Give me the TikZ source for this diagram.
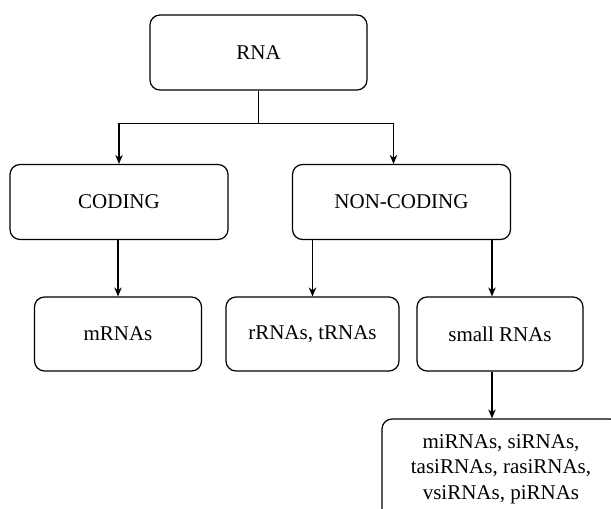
\documentclass[tikz,border=0pt]{standalone}
\usepackage{fontspec}
\setmainfont{Liberation Serif}
\usetikzlibrary{arrows.meta}
\begin{document}
\begin{tikzpicture}[x=1pt,y=-1pt,>={Stealth[length=9pt,width=7.5pt]},line width=1.2pt,
    box/.style={draw,rounded corners=10pt,minimum height=75pt,inner sep=0pt,align=center,
      font=\fontsize{21}{25.5}\selectfont}]
    \clip (0,0) rectangle (611,509);
    \node[box,minimum width=217pt] (rna) at (258.5,52.5) {RNA};
    \node[box,minimum width=218pt] (coding) at (119,202) {CODING};
    \node[box,minimum width=218pt] (noncoding) at (401.5,202) {NON-CODING};
    \node[box,minimum width=167pt,minimum height=74pt] (mrnas) at (118,334) {mRNAs};
    \node[box,minimum width=173pt,minimum height=74pt] (rrnas) at (312.5,334) {rRNAs, tRNAs};
    \node[box,minimum width=166pt,minimum height=74pt] (small) at (500,334) {small RNAs};
    \node[box,minimum width=238pt,minimum height=100pt] (sub) at (501,469)
      {miRNAs, siRNAs,\\ tasiRNAs, rasiRNAs,\\ vsiRNAs, piRNAs};
    \draw[->] (rna.south) -- ++(0,33) -| (coding.north);
    \draw[->] (rna.south) ++(0,33) -| ([xshift=-8pt]noncoding.north);
    \draw[->] (coding.south -| mrnas.north) -- (mrnas.north);
    \draw[->] (noncoding.south -| rrnas.north) -- (rrnas.north);
    \draw[->] ([xshift=-8pt]small.north |- noncoding.south) -- ([xshift=-8pt]small.north);
    \draw[->] ([xshift=-8pt]small.south) -- ([xshift=-8pt]small.south |- sub.north);
\end{tikzpicture}
\end{document}
